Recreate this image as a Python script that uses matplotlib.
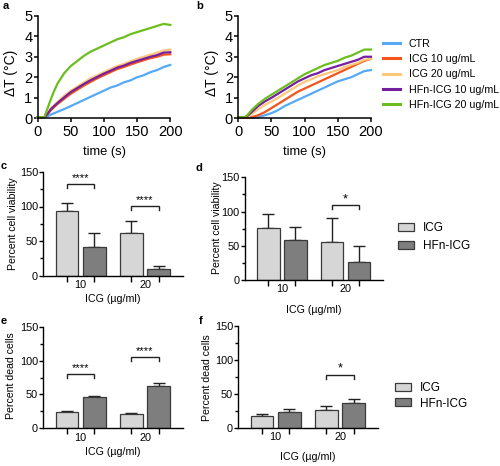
import numpy as np
import matplotlib
matplotlib.use("Agg")
import matplotlib.pyplot as plt
from matplotlib.patches import Patch
from matplotlib.lines import Line2D

plt.rcParams['font.family'] = ['Liberation Sans', 'DejaVu Sans']

# ---------------- data ----------------
time_s = [0, 5, 10, 15, 20, 25, 30, 40, 50, 60, 70, 80, 90, 100, 110, 120, 130, 140, 150, 160, 170, 180, 190, 200]
series_names = ['CTR', 'ICG 10 ug/mL', 'ICG 20 ug/mL', 'HFn-ICG 10 ug/mL', 'HFn-ICG 20 ug/mL']
series_colors = ['#55A9F5', '#F2541B', '#FFC878', '#7420A0', '#6CBE1E']

a_ctr = [0.05, 0.05, 0.05, 0.1, 0.18, 0.25, 0.32, 0.45, 0.6, 0.75, 0.9, 1.05, 1.2, 1.35, 1.5, 1.6, 1.75, 1.85, 2.0, 2.1, 2.25, 2.35, 2.5, 2.6]
a_icg10 = [0.05, 0.05, 0.05, 0.2, 0.4, 0.55, 0.7, 0.95, 1.2, 1.4, 1.6, 1.78, 1.95, 2.1, 2.25, 2.4, 2.5, 2.62, 2.73, 2.83, 2.93, 3.0, 3.1, 3.12]
a_icg20 = [0.05, 0.05, 0.05, 0.25, 0.5, 0.65, 0.8, 1.1, 1.35, 1.55, 1.75, 1.95, 2.1, 2.25, 2.4, 2.55, 2.65, 2.78, 2.9, 3.0, 3.1, 3.2, 3.3, 3.35]
a_hfn10 = [0.05, 0.05, 0.05, 0.22, 0.45, 0.6, 0.75, 1.02, 1.28, 1.48, 1.68, 1.86, 2.02, 2.18, 2.32, 2.47, 2.57, 2.7, 2.8, 2.9, 3.0, 3.08, 3.2, 3.22]
a_hfn20 = [0.05, 0.05, 0.05, 0.5, 0.95, 1.35, 1.7, 2.2, 2.55, 2.8, 3.05, 3.25, 3.4, 3.55, 3.7, 3.85, 3.95, 4.1, 4.2, 4.3, 4.4, 4.5, 4.6, 4.55]

b_ctr = [0.02, 0.02, 0.02, 0.02, 0.02, 0.02, 0.05, 0.15, 0.25, 0.4, 0.6, 0.75, 0.9, 1.05, 1.2, 1.35, 1.5, 1.65, 1.8, 1.9, 2.0, 2.15, 2.3, 2.35]
b_icg10 = [0.02, 0.02, 0.02, 0.02, 0.05, 0.1, 0.15, 0.3, 0.5, 0.7, 0.9, 1.1, 1.3, 1.45, 1.6, 1.75, 1.9, 2.05, 2.2, 2.35, 2.5, 2.65, 2.8, 2.9]
b_icg20 = [0.05, 0.05, 0.05, 0.1, 0.2, 0.32, 0.45, 0.65, 0.82, 1.0, 1.2, 1.4, 1.6, 1.78, 1.9, 2.05, 2.15, 2.25, 2.35, 2.5, 2.6, 2.7, 2.85, 2.9]
b_hfn10 = [0.05, 0.05, 0.05, 0.15, 0.3, 0.45, 0.6, 0.82, 1.0, 1.2, 1.4, 1.6, 1.8, 1.95, 2.1, 2.2, 2.35, 2.45, 2.55, 2.65, 2.75, 2.85, 3.0, 3.0]
b_hfn20 = [0.05, 0.05, 0.05, 0.2, 0.4, 0.55, 0.7, 0.95, 1.15, 1.35, 1.55, 1.75, 1.95, 2.15, 2.3, 2.45, 2.6, 2.7, 2.8, 2.95, 3.05, 3.2, 3.35, 3.35]

conc_groups = ['10', '20']
c_icg = [93.5, 61]
c_icg_err = [11.5, 18]
c_hfn = [41, 10]
c_hfn_err = [20, 3.5]
c_sig = ['****', '****']

d_icg = [76.5, 56]
d_icg_err = [19.5, 34]
d_hfn = [59, 26]
d_hfn_err = [18.5, 24]
d_sig = ['', '*']

e_icg = [23.8, 21.5]
e_icg_err = [1.3, 0.8]
e_hfn = [46.5, 62]
e_hfn_err = [1.0, 5.5]
e_sig = ['****', '****']

f_icg = [17.2, 27]
f_icg_err = [3.0, 5.5]
f_hfn = [23, 37]
f_hfn_err = [5.2, 5.0]
f_sig = ['', '*']

# ---------------- layout helpers ----------------
W, H = 500, 466
fig = plt.figure(figsize=(W / 100, H / 100), dpi=100)


def rect(l, r, top, bot):
    return [l / W, 1 - bot / H, (r - l) / W, (bot - top) / H]


def ptext(x, y, s, **kw):
    fig.text(x / W, 1 - y / H, s, **kw)


LIGHT = '#D6D6D6'
DARK = '#7E7E7E'
EDGE = '#3A3A3A'


def line_panel(ax, series, ylab_x):
    for ys, c in zip(series, series_colors):
        ax.plot(time_s, ys, color=c, lw=1.6, clip_on=False, solid_joinstyle='round')
    ax.set_xlim(0, 200)
    ax.set_ylim(0, 5)
    ax.set_xticks([0, 50, 100, 150, 200])
    ax.set_yticks([0, 1, 2, 3, 4, 5])
    for s in ['top', 'right']:
        ax.spines[s].set_visible(False)
    for s in ['left', 'bottom']:
        ax.spines[s].set_linewidth(1.1)
    ax.tick_params(axis='both', labelsize=10.5, length=3, width=1.1)
    ax.tick_params(axis='x', pad=2)
    ax.tick_params(axis='y', pad=0.8)
    ax.set_xlabel('time (s)', fontsize=9.3)
    ax.xaxis.set_label_coords(0.5, -0.27)
    ax.set_ylabel('ΔT (°C)', fontsize=10)
    ax.yaxis.set_label_coords(ylab_x, 0.446)


def bar_panel(ax, icg, icg_err, hfn, hfn_err, sig, sig_y, ylabel, ylab_xy, xlab_y):
    x = np.arange(len(conc_groups))
    off, w = 0.211, 0.355
    ax.bar(x - off, icg, w, color=LIGHT, edgecolor=EDGE, lw=0.9, zorder=2)
    ax.bar(x + off, hfn, w, color=DARK, edgecolor=EDGE, lw=0.9, zorder=2)
    z = np.zeros(len(x))
    ax.errorbar(x - off, icg, yerr=[z, icg_err], fmt='none', ecolor='#222222',
                elinewidth=1.0, capsize=4.2, capthick=1.0, zorder=1)
    ax.errorbar(x + off, hfn, yerr=[z, hfn_err], fmt='none', ecolor='#222222',
                elinewidth=1.0, capsize=4.2, capthick=1.0, zorder=1)
    for i, (s, yy) in enumerate(zip(sig, sig_y)):
        if not s:
            continue
        x0, x1 = i - off, i + off
        ax.plot([x0, x0, x1, x1], [yy - 6, yy, yy, yy - 6], color='#222222', lw=1.0,
                clip_on=False, solid_joinstyle='miter')
        ax.annotate(s, (i, yy), xytext=(0, 2.2), textcoords='offset points',
                    ha='center', va='baseline', fontsize=8 if len(s) > 1 else 9)
    ax.set_xlim(-0.58, 1.59)
    ax.set_ylim(0, 150)
    ax.set_yticks([0, 50, 100, 150])
    ax.set_yticks([25, 75, 125], minor=True)
    ax.set_xticks(np.concatenate([x - off, x + off]))
    ax.set_xticklabels([])
    ax.set_xticks(x, minor=True)
    ax.set_xticklabels(conc_groups, minor=True)
    for s in ['top', 'right']:
        ax.spines[s].set_visible(False)
    for s in ['left', 'bottom']:
        ax.spines[s].set_linewidth(1.0)
    ax.tick_params(axis='y', which='major', labelsize=7.8, length=3, width=1.0, pad=0.8)
    ax.tick_params(axis='y', which='minor', length=2, width=1.0)
    ax.tick_params(axis='x', which='major', length=4.3, width=1.0)
    ax.tick_params(axis='x', which='minor', length=0, labelsize=7.8, pad=3.2)
    ax.set_xlabel('ICG (µg/ml)', fontsize=7.7)
    ax.xaxis.set_label_coords(0.5, xlab_y)
    ax.set_ylabel(ylabel, fontsize=7.6)
    ax.yaxis.set_label_coords(*ylab_xy)


ax_a = fig.add_axes(rect(37.7, 170.3, 15.7, 118.3))
line_panel(ax_a, [a_ctr, a_icg10, a_icg20, a_hfn10, a_hfn20], -0.152)
ax_b = fig.add_axes(rect(238.3, 371, 15.7, 118.3))
line_panel(ax_b, [b_ctr, b_icg10, b_icg20, b_hfn10, b_hfn20], -0.149)

ax_c = fig.add_axes(rect(43.3, 183, 172, 275.5))
bar_panel(ax_c, c_icg, c_icg_err, c_hfn, c_hfn_err, c_sig, [132.6, 100.7],
          'Percent cell viability', (-0.178, 0.504), -0.179)
ax_d = fig.add_axes(rect(245, 383, 177.3, 280))
bar_panel(ax_d, d_icg, d_icg_err, d_hfn, d_hfn_err, d_sig, [0, 109.5],
          'Percent cell viability', (-0.167, 0.506), -0.243)
ax_e = fig.add_axes(rect(43.3, 183, 326.7, 428.3))
bar_panel(ax_e, e_icg, e_icg_err, e_hfn, e_hfn_err, e_sig, [79.8, 104.9],
          'Percent dead cells', (-0.192, 0.515), -0.184)
ax_f = fig.add_axes(rect(238.3, 378, 326, 428))
bar_panel(ax_f, f_icg, f_icg_err, f_hfn, f_hfn_err, f_sig, [0, 78],
          'Percent dead cells', (-0.188, 0.495), -0.232)

# legends
line_handles = [Line2D([], [], color=c, lw=2.2) for c in series_colors]
fig.legend(line_handles, series_names, loc='upper left',
           bbox_to_anchor=(383 / W, 1 - 38.8 / H), frameon=False, fontsize=7.7,
           borderpad=0, borderaxespad=0, handlelength=1.6, handletextpad=0.82,
           labelspacing=0.5)

bar_handles = [Patch(facecolor=LIGHT, edgecolor=EDGE, lw=0.9),
               Patch(facecolor=DARK, edgecolor=EDGE, lw=0.9)]
fig.legend(bar_handles, ['ICG', 'HFn-ICG'], loc='upper left',
           bbox_to_anchor=(398 / W, 1 - 222 / H), frameon=False, fontsize=8.5,
           borderpad=0, borderaxespad=0, handlelength=1.36, handleheight=0.65,
           handletextpad=0.75, labelspacing=0.55)
fig.legend(bar_handles, ['ICG', 'HFn-ICG'], loc='upper left',
           bbox_to_anchor=(395 / W, 1 - 382 / H), frameon=False, fontsize=8.5,
           borderpad=0, borderaxespad=0, handlelength=1.36, handleheight=0.65,
           handletextpad=0.75, labelspacing=0.3)

# panel letters
for (x, y, s) in [(5.5, 6, 'a'), (200, 6, 'b'), (4, 166, 'c'), (199, 168, 'd'),
                  (4, 321, 'e'), (201, 321, 'f')]:
    ptext(x, y, s, fontsize=8, fontweight='bold', ha='center', va='center')

fig.savefig('out.png', dpi=100)
